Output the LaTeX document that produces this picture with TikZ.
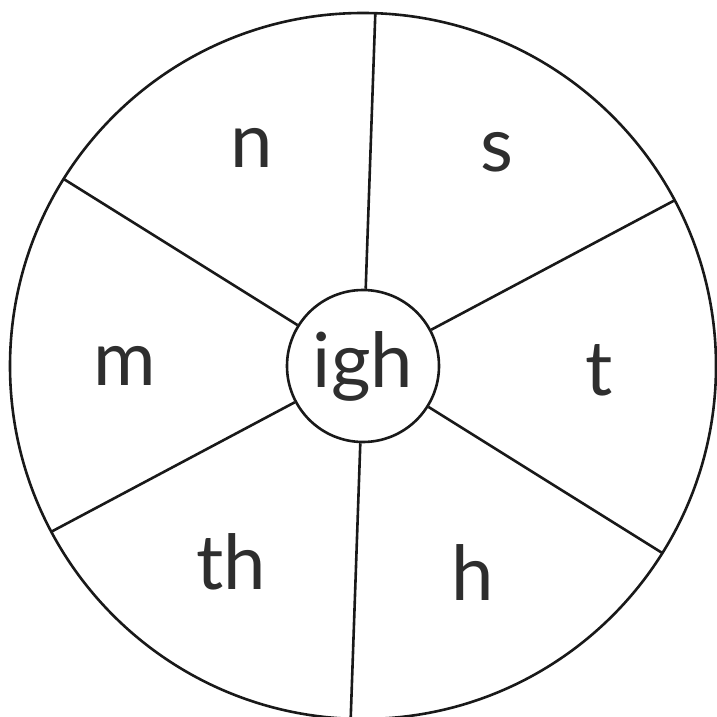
\documentclass[tikz,border=0pt]{standalone}
\usepackage{fontspec}
\setmainfont{Lato}
\usetikzlibrary{calc}

\tikzset{
  wheel line/.style={line width=2.6pt, draw=black!90},
  sound/.style={font=\fontsize{76}{76}\selectfont, text=black!82, inner sep=0pt},
}

\begin{document}
\begin{tikzpicture}[x=1pt, y=1pt]
  % page = 717 x 716 px, y up
  \useasboundingbox (0,0) rectangle (717,716);
  \clip (0,0) rectangle (717,716);

  \coordinate (c) at (363,350);

  % --- outer rim ---
  \draw[wheel line] (c) circle[radius=353];

  % --- hub with the sound ---
  \node[wheel line, circle, minimum size=152pt, inner sep=0pt, fill=white] (hub) at (c) {};
  \node[sound] (igh) at (c) {igh};

  % --- spokes, every 60 degrees ---
  \foreach \a in {28,88,...,328}{
    \coordinate (rim\a) at ($(c)+(\a:353)$);
    \draw[wheel line] (hub.\a) -- (rim\a);
  }

  % --- onset letters in the sectors ---
  \foreach \a/\r/\t in {58/252/s, 117/245/n, 180/238/m, 359/236/t, 236/236/th, 298/234/h}
    \node[sound] (\t) at ($(c)+(\a:\r)$) {\t};
\end{tikzpicture}
\end{document}
